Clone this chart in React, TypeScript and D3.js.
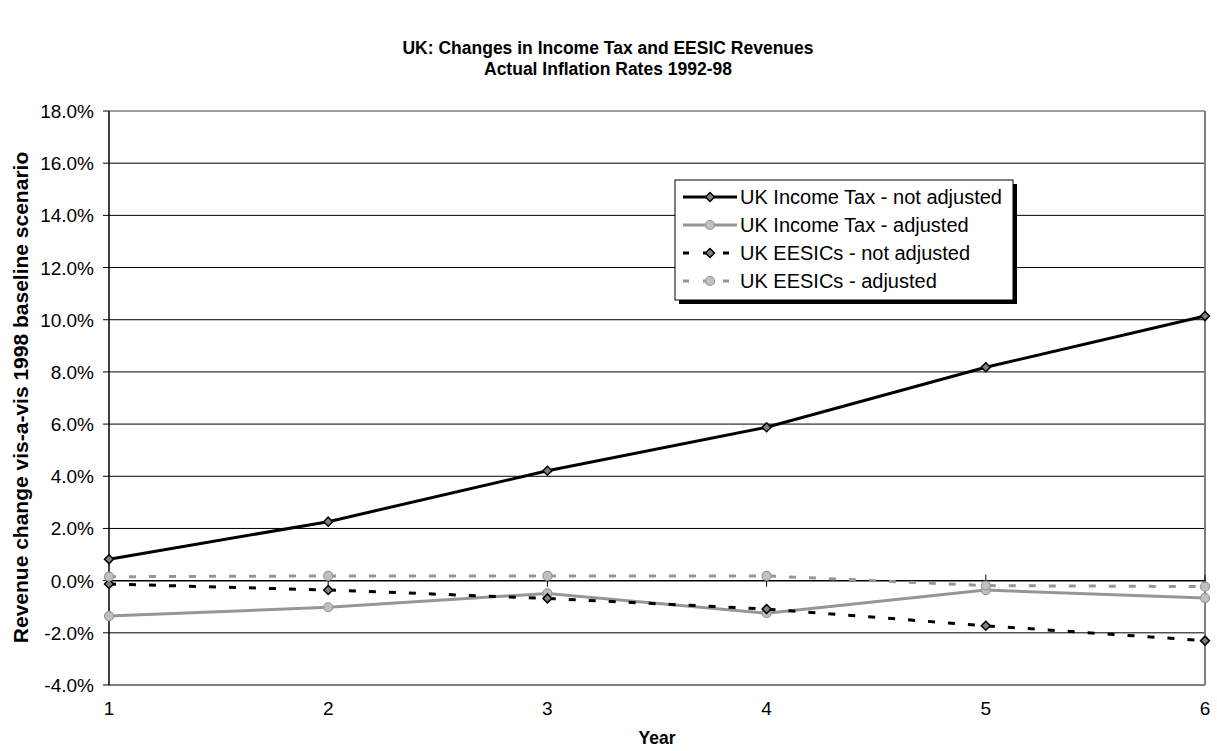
import React from "react";
import * as d3 from "d3";

const years = [1, 2, 3, 4, 5, 6];
const yTicks = [-4, -2, 0, 2, 4, 6, 8, 10, 12, 14, 16, 18];
const itNotAdjusted = [0.82, 2.26, 4.21, 5.88, 8.18, 10.14];
const itAdjusted = [-1.36, -1.02, -0.49, -1.25, -0.36, -0.67];
const eesicNotAdjusted = [-0.13, -0.36, -0.68, -1.09, -1.73, -2.3];
const eesicAdjusted = [0.15, 0.18, 0.18, 0.18, -0.19, -0.23];

const seriesNames = [
  "UK Income Tax - not adjusted",
  "UK Income Tax - adjusted",
  "UK EESICs - not adjusted",
  "UK EESICs - adjusted",
];

const W = 1217;
const H = 751;
const left = 109;
const right = 1205;
const top = 111;
const bottom = 685;
const FONT = "'Liberation Sans', Arial, sans-serif";

type Style = {
  stroke: string;
  dash?: string;
  marker: "diamond" | "circle";
  fill: string;
  mstroke: string;
};

const styles: Style[] = [
  { stroke: "#000", marker: "diamond", fill: "#808080", mstroke: "#000" },
  { stroke: "#969696", marker: "circle", fill: "#c0c0c0", mstroke: "#969696" },
  { stroke: "#000", dash: "7,13", marker: "diamond", fill: "#808080", mstroke: "#000" },
  { stroke: "#969696", dash: "7,13", marker: "circle", fill: "#c0c0c0", mstroke: "#969696" },
];

function Marker({ x, y, s }: { x: number; y: number; s: Style }) {
  if (s.marker === "diamond") {
    const r = 4.5;
    return (
      <path
        d={`M${x},${y - r}L${x + r},${y}L${x},${y + r}L${x - r},${y}Z`}
        fill={s.fill}
        stroke={s.mstroke}
        strokeWidth={1.5}
      />
    );
  }
  return <circle cx={x} cy={y} r={4.5} fill={s.fill} stroke={s.mstroke} strokeWidth={1.2} />;
}

export default function App() {
  const x = d3.scaleLinear().domain([1, 6]).range([left, right]);
  const y = d3.scaleLinear().domain([-4, 18]).range([bottom, top]);
  const data = [itNotAdjusted, itAdjusted, eesicNotAdjusted, eesicAdjusted];
  const line = d3
    .line<number>()
    .x((_, i) => x(years[i]))
    .y((d) => y(d));

  const legX = 675;
  const legY = 180;
  const legW = 338;
  const legH = 120;
  const rowY = [197, 225, 253, 281];

  return (
    <svg
      width={W}
      height={H}
      style={{ position: "absolute", left: 0, top: 0, background: "#fff" }}
      fontFamily={FONT}
    >
      <rect x={0} y={0} width={W} height={H} fill="#fff" />
      {/* title */}
      <text x={608} y={53.5} textAnchor="middle" fontSize={17.5} fontWeight="bold">
        UK: Changes in Income Tax and EESIC Revenues
      </text>
      <text x={608} y={74.5} textAnchor="middle" fontSize={17.5} fontWeight="bold">
        Actual Inflation Rates 1992-98
      </text>

      {/* gridlines */}
      {yTicks
        .filter((t) => t !== 0 && t !== -4 && t !== 18)
        .map((t) => (
          <line key={t} x1={left} x2={right} y1={y(t)} y2={y(t)} stroke="#000" strokeWidth={1} />
        ))}
      {/* plot border */}
      <line x1={left} x2={right} y1={y(18)} y2={y(18)} stroke="#808080" strokeWidth={1.5} />
      <line x1={left} x2={right} y1={y(-4)} y2={y(-4)} stroke="#808080" strokeWidth={2} />
      <line x1={right} x2={right} y1={y(18)} y2={y(-4)} stroke="#808080" strokeWidth={2} />

      {/* y axis */}
      <line x1={left} x2={left} y1={y(18)} y2={y(-4)} stroke="#000" strokeWidth={1.5} />
      {yTicks.map((t) => (
        <g key={t}>
          <line x1={left - 6} x2={left} y1={y(t)} y2={y(t)} stroke="#000" strokeWidth={1} />
          <text x={left - 15} y={y(t) + 7} textAnchor="end" fontSize={19}>
            {t.toFixed(1) + "%"}
          </text>
        </g>
      ))}

      {/* x axis at zero */}
      <line x1={left} x2={right} y1={y(0)} y2={y(0)} stroke="#000" strokeWidth={1.5} />
      {years.map((yr) => (
        <g key={yr}>
          <line x1={x(yr)} x2={x(yr)} y1={y(0) - 6} y2={y(0) + 6} stroke="#000" strokeWidth={1} />
          <text x={x(yr)} y={715} textAnchor="middle" fontSize={19}>
            {yr}
          </text>
        </g>
      ))}

      {/* axis titles */}
      <text x={657} y={744} textAnchor="middle" fontSize={17.5} fontWeight="bold">
        Year
      </text>
      <text
        transform={`translate(28,${397.5}) rotate(-90)`}
        textAnchor="middle"
        fontSize={21}
        fontWeight="bold"
      >
        Revenue change vis-a-vis 1998 baseline scenario
      </text>

      {/* series */}
      {data.map((d, si) => (
        <g key={si}>
          <path
            d={line(d) || ""}
            fill="none"
            stroke={styles[si].stroke}
            strokeWidth={3}
            strokeDasharray={styles[si].dash}
          />
          {d.map((v, i) => (
            <Marker key={i} x={x(years[i])} y={y(v)} s={styles[si]} />
          ))}
        </g>
      ))}

      {/* legend */}
      <rect x={legX + 4} y={legY + 4} width={legW} height={legH} fill="#000" />
      <rect x={legX} y={legY} width={legW} height={legH} fill="#fff" stroke="#000" strokeWidth={1} />
      {seriesNames.map((n, i) => (
        <g key={n}>
          <line
            x1={683}
            x2={737}
            y1={rowY[i]}
            y2={rowY[i]}
            stroke={styles[i].stroke}
            strokeWidth={3}
            strokeDasharray={styles[i].dash ? "6,14" : undefined}
          />
          <Marker x={710} y={rowY[i]} s={styles[i]} />
          <text x={740} y={rowY[i] + 7} fontSize={20}>
            {n}
          </text>
        </g>
      ))}
    </svg>
  );
}
